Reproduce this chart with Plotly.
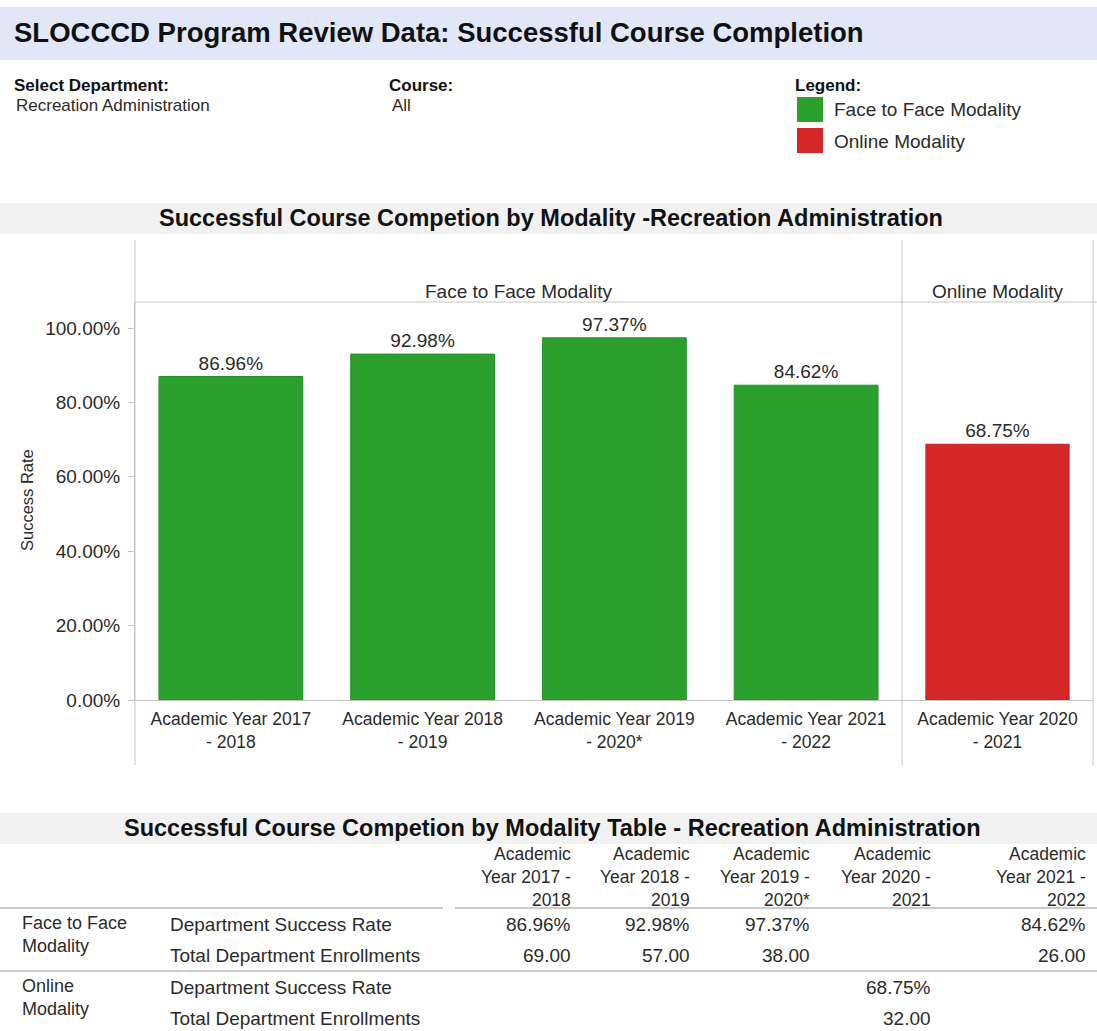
import plotly.graph_objects as go

# ---- data ----
f2f_years = ["Academic Year 2017<br>- 2018", "Academic Year 2018<br>- 2019",
             "Academic Year 2019<br>- 2020*", "Academic Year 2021<br>- 2022"]
f2f_success = [86.96, 92.98, 97.37, 84.62]  # % success rate, face to face
online_years = ["Academic Year 2020<br>- 2021"]
online_success = [68.75]  # % success rate, online

table_years = ["Academic<br>Year 2017 -<br>2018", "Academic<br>Year 2018 -<br>2019",
               "Academic<br>Year 2019 -<br>2020*", "Academic<br>Year 2020 -<br>2021",
               "Academic<br>Year 2021 -<br>2022"]
table_f2f_rate = [86.96, 92.98, 97.37, None, 84.62]
table_f2f_enroll = [69.00, 57.00, 38.00, None, 26.00]
table_online_rate = [None, None, None, 68.75, None]
table_online_enroll = [None, None, None, 32.00, None]

y_ticks = [0, 20, 40, 60, 80, 100]

GREEN = "#2ca02c"
RED = "#d62728"
TXT = "#2b2b2b"
GRID = "#c4c4c4"
FONT = "Liberation Sans, Arial, sans-serif"
FS = 19  # base font size
W, H = 1097, 1031


def px(x):
    return x / W


def py(y):
    return 1 - y / H


fig = go.Figure()

fig.add_trace(go.Bar(x=f2f_years, y=f2f_success, marker=dict(color=GREEN, line=dict(color="#23902a", width=1)),
                     texttemplate="%{y:.2f}%", textposition="outside", cliponaxis=False,
                     textfont=dict(size=FS, color=TXT), name="Face to Face Modality",
                     xaxis="x", yaxis="y"))
fig.add_trace(go.Bar(x=online_years, y=online_success, marker=dict(color=RED, line=dict(color="#c42024", width=1)),
                     texttemplate="%{y:.2f}%", textposition="outside", cliponaxis=False,
                     textfont=dict(size=FS, color=TXT), name="Online Modality",
                     xaxis="x2", yaxis="y"))

y_top = (700 - 302) / 3.72
axis_common = dict(showgrid=False, zeroline=False, showline=True, linecolor=GRID, linewidth=1,
                   tickfont=dict(size=17.5, color=TXT, family=FONT), ticks="", fixedrange=True,
                   ticklabelstandoff=3, automargin=False)

fig.update_layout(
    width=W, height=H,
    margin=dict(l=0, r=0, t=0, b=0, autoexpand=False),
    paper_bgcolor="white", plot_bgcolor="white",
    showlegend=False,
    bargap=0.25,
    font=dict(family=FONT, color=TXT),
    xaxis=dict(domain=[px(135), px(902)], anchor="y", **axis_common),
    xaxis2=dict(domain=[px(902), px(1093)], anchor="y", **axis_common),
    yaxis=dict(domain=[py(700), py(302)], range=[0, y_top], tickvals=y_ticks,
               ticktext=["%.2f%%" % v for v in y_ticks], ticks="outside", ticklen=6,
               tickcolor=GRID, showgrid=False, zeroline=False, showline=True, automargin=False,
               linecolor=GRID, tickfont=dict(size=FS, color=TXT), fixedrange=True,
               ticklabelstandoff=4),
)

shapes = []
annots = []


def line(x0, y0, x1, y1, color=GRID, width=1):
    shapes.append(dict(type="line", xref="paper", yref="paper", x0=px(x0), y0=py(y0),
                       x1=px(x1), y1=py(y1), line=dict(color=color, width=width)))


def rect(x0, y0, x1, y1, fill, lc=None):
    shapes.append(dict(type="rect", xref="paper", yref="paper", x0=px(x0), y0=py(y0),
                       x1=px(x1), y1=py(y1), fillcolor=fill,
                       line=dict(width=1 if lc else 0, color=lc or fill), layer="below"))


def text(x, y, s, size=FS, bold=False, xanchor="left", color=TXT, align="left", angle=0):
    if bold:
        s = "<b>" + s + "</b>"
    annots.append(dict(x=px(x), y=py(y), xref="paper", yref="paper", text=s, showarrow=False,
                       xanchor=xanchor, yanchor="middle", align=align, textangle=angle,
                       font=dict(size=size, color=color, family=FONT)))


# header band
rect(0, 7, W, 60, "#e1e7f7")
text(12, 33, "SLOCCCD Program Review Data: Successful Course Completion", size=27.5, bold=True, color="#111111")

text(12, 85, "Select Department:", size=17, bold=True, color="#111111")
text(14, 106, "Recreation Administration", size=17)
text(387, 85, "Course:", size=17, bold=True, color="#111111")
text(390, 106, "All", size=17)
text(793, 86, "Legend:", size=17, bold=True, color="#111111")
rect(797, 97, 823, 122, GREEN)
text(832, 110, "Face to Face Modality")
rect(797, 128, 823, 153, RED)
text(832, 141, "Online Modality")

# chart title
rect(0, 203, W, 234, "#f1f1f1")
text(551, 218, "Successful Course Competion by Modality -Recreation Administration", size=23.5,
     bold=True, xanchor="center", color="#111111")

# facet frame
line(135, 240, 135, 765)
line(902, 240, 902, 765)
line(1093, 240, 1093, 765)
line(135, 302, W, 302)
text(518, 291, "Face to Face Modality", xanchor="center")
text(997, 291, "Online Modality", xanchor="center")
text(27, 500, "Success Rate", size=16.5, xanchor="center", angle=-90)

# table
rect(0, 813, W, 844, "#f1f1f1")
text(552, 828, "Successful Course Competion by Modality Table - Recreation Administration", size=23.5,
     bold=True, xanchor="center", color="#111111")

col_x = [573, 692, 812, 933, 1088]
for cx, hdr in zip(col_x, table_years):
    annots.append(dict(x=px(cx), y=py(877), xref="paper", yref="paper", text=hdr, showarrow=False,
                       xanchor="right", yanchor="middle", align="right",
                       font=dict(size=17.5, color=TXT, family=FONT)))

line(0, 908, 443, 908, color="#b8b8b8", width=1.5)
line(455, 908, W, 908, color="#b8b8b8", width=1.5)
line(0, 971, W, 971, color="#b8b8b8", width=1.5)

text(20, 934, "Face to Face<br>Modality", size=18)
text(168, 924, "Department Success Rate")
text(168, 955, "Total Department Enrollments")
text(20, 997, "Online<br>Modality", size=18)
text(168, 987, "Department Success Rate")
text(168, 1018, "Total Department Enrollments")

rows = [(924, table_f2f_rate, "%.2f%%"), (955, table_f2f_enroll, "%.2f"),
        (987, table_online_rate, "%.2f%%"), (1018, table_online_enroll, "%.2f")]
for ry, vals, fmt in rows:
    for cx, v in zip(col_x, vals):
        if v is not None:
            text(cx, ry, fmt % v, xanchor="right")

fig.update_layout(shapes=shapes, annotations=annots)

# page body has an 8px default margin; drop it so the figure fills the window
fig.write_html("out.html", config={"displayModeBar": False},
               post_script="document.body.style.margin='0';")
